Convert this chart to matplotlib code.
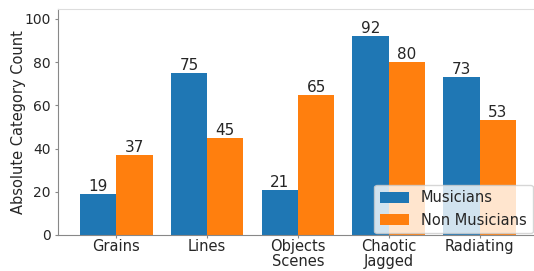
import numpy as np
import matplotlib.pyplot as plt

categories = ['Grains', 'Lines', 'Objects\nScenes', 'Chaotic\nJagged', 'Radiating']
musicians = [19, 75, 21, 92, 73]
non_musicians = [37, 45, 65, 80, 53]

x = np.arange(len(categories))
w = 0.4
txt = '#262626'

fig, ax = plt.subplots(figsize=(5.34, 2.71), dpi=100)
fig.subplots_adjust(left=0.109, right=1.0, top=0.967, bottom=0.133)

b1 = ax.bar(x - w/2, musicians, w, color='#1f77b4', label='Musicians')
b2 = ax.bar(x + w/2, non_musicians, w, color='#ff7f0e', label='Non Musicians')
ax.bar_label(b1, fontsize=11, padding=0, color=txt)
ax.bar_label(b2, fontsize=11, padding=0, color=txt)

ax.set_xticks(x)
ax.set_xticklabels(categories, fontsize=10.5, linespacing=1.0)
ax.tick_params(axis='both', length=2.5, color='#888888', labelcolor=txt)
ax.tick_params(axis='x', pad=0.5)
ax.tick_params(axis='y', labelsize=10, pad=3)
ax.set_ylabel('Absolute Category Count', fontsize=10.5, color=txt, labelpad=-1)
ax.set_ylim(0, 104.6)
ax.set_xlim(-0.64, 4.6)

ax.spines['right'].set_visible(False)
ax.spines['top'].set_color('#dddddd')
ax.spines['left'].set_color('#888888')
ax.spines['bottom'].set_color('#888888')

leg = ax.legend(loc='lower right', fontsize=10.5, borderaxespad=0.1,
                handleheight=0.8)
for t in leg.get_texts():
    t.set_color(txt)

plt.savefig('out.png')
